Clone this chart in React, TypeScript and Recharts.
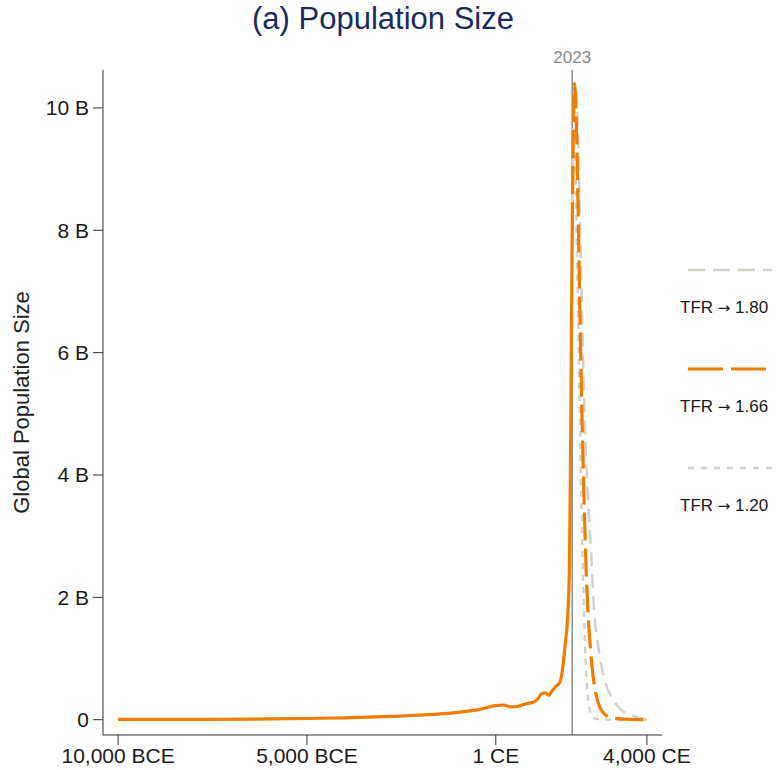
import React from "react";
import { Line, LineChart, ReferenceLine, XAxis, YAxis } from "recharts";

// historical estimate, billions
const historyYears = [-10000, -8000, -6000, -5000, -4000, -3000, -2000, -1000, -500, 1, 200, 400, 600, 800, 1000, 1100, 1200, 1300, 1400, 1500, 1600, 1700, 1750, 1800, 1850, 1900, 1950, 1975, 2000, 2023];
const historyPop = [0.004, 0.006, 0.012, 0.02, 0.03, 0.05, 0.075, 0.12, 0.16, 0.23, 0.24, 0.21, 0.22, 0.26, 0.29, 0.33, 0.42, 0.44, 0.4, 0.48, 0.55, 0.62, 0.75, 1.0, 1.3, 1.65, 2.5, 4.1, 6.1, 8.0];

// projections from 2023
const years180 = [2023, 2050, 2095, 2150, 2200, 2250, 2300, 2350, 2400, 2450, 2500, 2550, 2600, 2700, 2800, 2900, 3000, 3200, 3400, 3600, 3800, 4000];
const pop180 = [8.0, 9.6, 10.4, 10.0, 9.0, 7.6, 6.2, 5.0, 4.1, 3.5, 3.0, 2.4, 1.8, 1.25, 0.87, 0.6, 0.45, 0.24, 0.12, 0.07, 0.03, 0.01];

const years166 = [2023, 2050, 2084, 2100, 2150, 2200, 2250, 2300, 2350, 2400, 2450, 2500, 2550, 2600, 2700, 2800, 2900, 3000, 3300, 3600, 4000];
const pop166 = [8.0, 9.5, 10.4, 10.3, 9.3, 7.6, 5.9, 4.5, 3.3, 2.3, 1.65, 1.2, 0.85, 0.6, 0.3, 0.15, 0.08, 0.04, 0.015, 0.006, 0.002];

const years120 = [2023, 2050, 2070, 2100, 2150, 2200, 2250, 2300, 2350, 2400, 2450, 2500, 2550, 2600, 2700, 3000, 4000];
const pop120 = [8.0, 9.1, 9.4, 9.1, 7.6, 5.8, 4.1, 2.6, 1.45, 0.7, 0.3, 0.13, 0.06, 0.03, 0.01, 0.003, 0.0];

const xTicks = [-10000, -5000, 0, 4000];
const xTickLabels = ["10,000 BCE", "5,000 BCE", "1 CE", "4,000 CE"];
const yTicks = [0, 2, 4, 6, 8, 10];

const ORANGE = "#f07d00";
const GRAY = "#d4d1c9";
const FONT = "'Liberation Sans', Arial, Helvetica, sans-serif";

const zip = (xs: number[], ys: number[]) => xs.map((year, i) => ({ year, pop: ys[i] }));

const history = zip(historyYears, historyPop);
const proj180 = zip(years180, pop180);
const proj166 = zip(years166, pop166);
const proj120 = zip(years120, pop120);

const legendItems = [
  { tfr: "1.80", color: GRAY, dash: "17 8", width: 2.5 },
  { tfr: "1.66", color: ORANGE, dash: "35 8", width: 3 },
  { tfr: "1.20", color: GRAY, dash: "6 7", width: 2.5 },
];

function YTitle({ viewBox }: any) {
  const cy = viewBox.y + viewBox.height / 2;
  return (
    <text
      x={21}
      y={cy}
      transform={`rotate(-90, 21, ${cy})`}
      textAnchor="middle"
      dominantBaseline="central"
      fontSize={22}
      fill="#222"
      fontFamily={FONT}
    >
      Global Population Size
    </text>
  );
}

export default function App() {
  return (
    <div style={{ position: "absolute", left: 0, top: 0, width: 777, height: 770, background: "#fff", fontFamily: FONT, overflow: "hidden" }}>
      <div style={{ position: "absolute", left: 0, top: 1, width: 766, textAlign: "center", fontSize: 31, color: "#1b2b5c" }}>
        (a) Population Size
      </div>
      <LineChart width={777} height={770} margin={{ top: 70, right: 115, left: 0, bottom: 5 }}>
        <XAxis
          type="number"
          dataKey="year"
          domain={[-10400, 4400]}
          ticks={xTicks}
          allowDataOverflow
          height={30}
          tickFormatter={(v) => xTickLabels[xTicks.indexOf(v)]}
          tickSize={10}
          tickMargin={3}
          stroke="#333"
          tick={{ fill: "#1a1a1a", fontSize: 21, fontFamily: FONT }}
          interval={0}
        />
        <YAxis
          type="number"
          domain={[-0.25, 10.62]}
          ticks={yTicks}
          allowDataOverflow
          width={103}
          tickFormatter={(v) => (v === 0 ? "0" : `${v} B`)}
          tickSize={10}
          tickMargin={4}
          stroke="#333"
          tick={{ fill: "#1a1a1a", fontSize: 21, fontFamily: FONT }}
          label={{ content: YTitle }}
        />
        <ReferenceLine
          x={2023}
          stroke="#8c8c8c"
          strokeWidth={1.5}
          label={{ value: "2023", position: "top", offset: 7, fill: "#8a8a8a", fontSize: 17, fontFamily: FONT }}
        />
        <Line data={proj180} dataKey="pop" type="monotone" stroke={GRAY} strokeWidth={2.5} strokeDasharray="14 8" dot={false} isAnimationActive={false} />
        <Line data={proj120} dataKey="pop" type="monotone" stroke={GRAY} strokeWidth={2.5} strokeDasharray="6 6" dot={false} isAnimationActive={false} />
        <Line data={proj166} dataKey="pop" type="monotone" stroke={ORANGE} strokeWidth={3.2} strokeDasharray="28 8" dot={false} isAnimationActive={false} />
        <Line data={history} dataKey="pop" type="monotone" stroke={ORANGE} strokeWidth={3.2} dot={false} isAnimationActive={false} />
      </LineChart>
      {legendItems.map((item, i) => (
        <div key={item.tfr} style={{ position: "absolute", left: 686, top: 262 + i * 99 }}>
          <svg width={90} height={14} style={{ display: "block" }}>
            <line x1={2} y1={8} x2={86} y2={8} stroke={item.color} strokeWidth={item.width} strokeDasharray={item.dash} />
          </svg>
          <div style={{ position: "absolute", top: 36, left: -6, fontSize: 17, lineHeight: "19px", color: "#1a1a1a", whiteSpace: "nowrap" }}>
            TFR <span style={{ fontFamily: "'DejaVu Sans', sans-serif", fontSize: 15 }}>→</span> {item.tfr}
          </div>
        </div>
      ))}
    </div>
  );
}
